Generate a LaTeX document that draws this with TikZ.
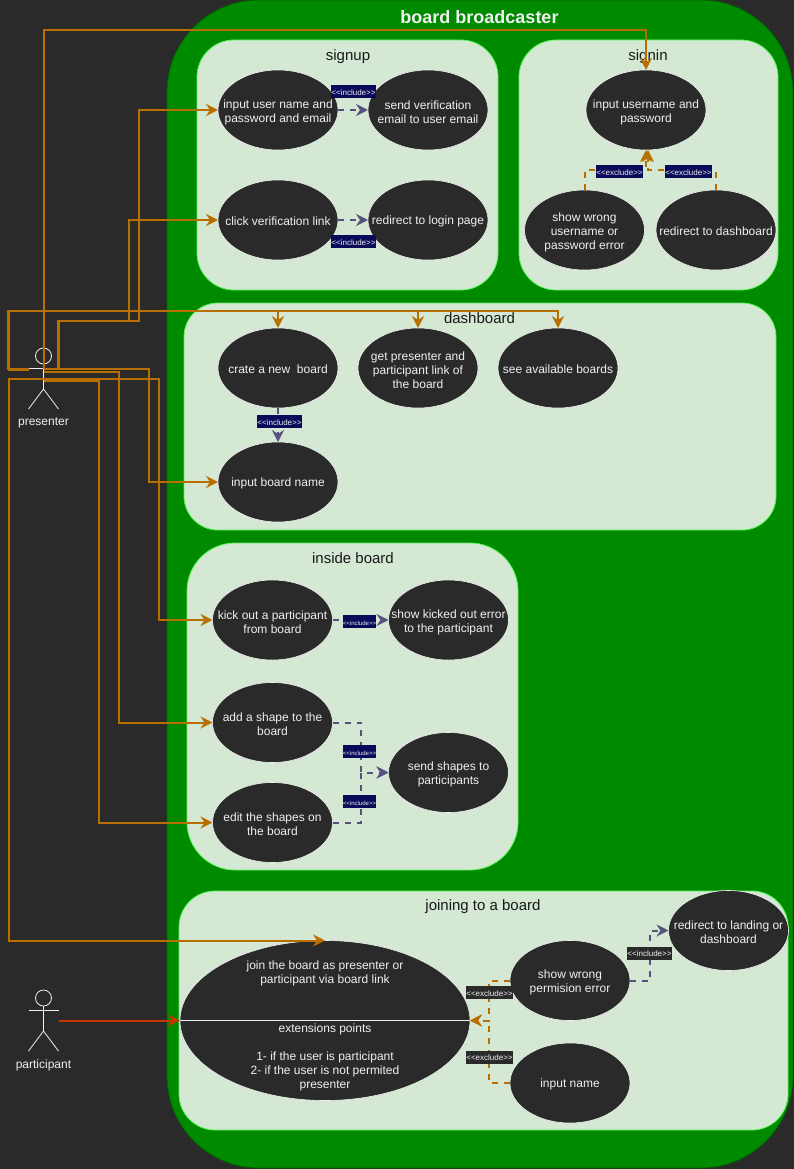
\documentclass[tikz,border=0pt]{standalone}
\usepackage{fontspec}
\setmainfont{Liberation Sans}
\usetikzlibrary{arrows.meta,shapes.geometric}
\definecolor{canvas}{HTML}{2A2A2A}
\definecolor{boardgreen}{HTML}{008A00}
\definecolor{groupgreen}{HTML}{D5E8D4}
\definecolor{routeorange}{HTML}{B96F00}
\definecolor{routepurple}{HTML}{56517E}
\definecolor{routered}{HTML}{C73500}
\definecolor{tagnavy}{HTML}{0A0A5A}
\definecolor{softwhite}{HTML}{F0F0F0}

\tikzset{
	groupbox/.style={draw=#1!60!groupgreen, fill=groupgreen, line width=0.8pt, inner sep=0pt},
	grouptitle/.style={text=black!90, font=\fontsize{15}{17}\selectfont},
	usecase/.style={ellipse, draw=softwhite, fill=canvas, line width=0.6pt, text=softwhite, inner xsep=-45pt, inner ysep=-22pt, outer sep=0pt,
		minimum width=120pt, minimum height=80pt, align=center, font=\fontsize{12}{14}\selectfont,
		execute at begin node={\rule{0pt}{10.8pt}}},
	usecasetwo/.style={usecase, execute at begin node={\rule{0pt}{26.7pt}}},
	usecasethree/.style={usecase, execute at begin node={\rule{0pt}{40.7pt}}},
	plaintext/.style={text=softwhite, align=center, inner sep=0pt, font=\fontsize{12}{14}\selectfont},
	tip/.style={-{Stealth[length=12pt, width=12pt, inset=4pt]}},
	assoc/.style={tip, draw=routeorange, line width=2pt},
	assocred/.style={tip, draw=routered, line width=2pt},
	includeline/.style={tip, draw=routepurple, line width=2pt, dash pattern=on 6pt off 6pt},
	excludeline/.style={tip, draw=routeorange, line width=2pt, dash pattern=on 6pt off 6pt},
	tagbig/.style={fill=#1, text=softwhite, minimum width=45pt, minimum height=13pt, inner sep=0pt, font=\fontsize{8}{9}\selectfont},
	tagwide/.style={tagbig=#1, minimum width=47pt},
	tagsmall/.style={tagbig=tagnavy, minimum width=33pt, font=\fontsize{6}{7}\selectfont},
	stick/.style={draw=softwhite, line width=0.8pt},
}

\begin{document}
\begin{tikzpicture}[x=1pt, y=-1pt]
	\useasboundingbox (0,0) rectangle (794,1169);
	\fill[canvas] (0,0) rectangle (794,1169);

	\node[draw=boardgreen!70!black, fill=boardgreen, rounded corners=92pt, line width=0.8pt, inner sep=0pt, minimum width=626pt, minimum height=1168pt] (board) at (480,584) {};
	\node[text=softwhite, font=\bfseries\fontsize{18}{20}\selectfont] (boardtitle) at (479.5,17.5) {board broadcaster};

	\node[groupbox=green, rounded corners=37pt, minimum width=301pt, minimum height=250pt] (signup) at (347.5,165) {};
	\node[groupbox=green, rounded corners=37pt, minimum width=259pt, minimum height=250pt] (signin) at (648.5,165) {};
	\node[groupbox=green, rounded corners=34pt, minimum width=592pt, minimum height=227pt] (dashboard) at (480,416.5) {};
	\node[groupbox=green, rounded corners=48pt, minimum width=331pt, minimum height=327pt] (inside) at (352.5,706.5) {};
	\node[groupbox=green, rounded corners=36pt, minimum width=609pt, minimum height=239pt] (joining) at (483.5,1010.5) {};

	\node[grouptitle] (signuptitle) at (348,57) {signup};
	\node[grouptitle] (signintitle) at (648,57) {signin};
	\node[grouptitle] (dashboardtitle) at (479.5,318.5) {dashboard};
	\node[grouptitle] (insidetitle) at (353,558.5) {inside board};
	\node[grouptitle] (joiningtitle) at (483,906.5) {joining to a board};

	\node[usecasetwo] (inputuser) at (278,110) {input user name and\\password and email};
	\node[usecasetwo] (sendemail) at (428,110) {send verification\\email to user email};
	\node[usecase] (clicklink) at (278,220) {click verification link};
	\node[usecase] (redirectlogin) at (428,220) {redirect to login page};
	\node[usecasetwo] (inputpass) at (646,110) {input username and\\password};
	\node[usecasethree] (wrongpass) at (584.5,230) {show wrong\\username or\\password error};
	\node[usecase] (redirectdash) at (716,230) {redirect to dashboard};
	\node[usecase] (newboard) at (278,368) {crate a new \ board};
	\node[usecasethree] (getlink) at (418,368) {get presenter and\\participant link of\\the board};
	\node[usecase] (seeboards) at (558,368) {see available boards};
	\node[usecase] (boardname) at (278,482) {input board name};
	\node[usecasetwo] (kick) at (272.5,620) {kick out a participant\\from board};
	\node[usecasetwo] (kickerror) at (448.5,620) {show kicked out error\\to the participant};
	\node[usecasetwo] (addshape) at (272.5,722.5) {add a shape to the\\board};
	\node[usecasetwo] (sendshapes) at (448.5,772.5) {send shapes to\\participants};
	\node[usecasetwo] (editshape) at (272.5,822.5) {edit the shapes on\\the board};
	\node[usecasetwo] (wrongperm) at (570,980.5) {show wrong\\permision error};
	\node[usecase] (inputname) at (570,1083) {input name};
	\node[usecasetwo] (redirectland) at (728.5,930.5) {redirect to landing or\\dashboard};

	\node[usecase, minimum width=290pt, minimum height=160pt] (join) at (325,1020.5) {};
	\draw[draw=softwhite, line width=0.8pt] (join.west) -- (join.east);
	\node[plaintext] (jointext) at (325,973) {join the board as presenter or\\participant via board link};
	\node[plaintext] (extensions) at (325,1057) {extensions points\\[14pt]1- if the user is participant\\2- if the user is not permited\\presenter};

	\foreach \ay/\who in {356/presenter,998/participant} {
		\node[circle, stick, minimum size=16pt, inner sep=0pt] (\who head) at (43.5,\ay) {};
		\draw[stick] (\who head.south) -- (43.5,\ay+33) coordinate (\who hip);
		\draw[stick] (28.5,\ay+12.5) -- (58.5,\ay+12.5);
		\draw[stick] (28.5,\ay+53) -- (\who hip) -- (58.5,\ay+53);
		\node[plaintext] (\who) at (43.5,\ay+67) {\who};
	}
	\coordinate (centerA) at (43.5,369);
	\coordinate (centerB) at (43.5,371.5);
	\coordinate (centerC) at (43.5,378.5);
	\coordinate (centerD) at (43.5,381);
	\coordinate (armright) at (58,369);
	\coordinate (armrighter) at (59,369);
	\coordinate (armleft) at (28.5,368.5);
	\coordinate (armlower) at (28.5,369.8);
	\coordinate (partarm) at (58.5,1020.5);

	\draw[assoc] (centerA) -- (43.5,30.5) -| (inputpass.north);
	\draw[assoc] (armright) -- (58,320.5) -- (138.5,320.5) |- (inputuser.west);
	\draw[assoc] (armrighter) -- (59,320.5) -- (128.5,320.5) |- (clicklink.west);
	\draw[assoc] (armleft) -- (8.2,368.5) -- (8.2,310.5) -| (newboard.north);
	\draw[assoc] (armlower) -- (9.2,369.8) -- (9.2,310.5) -| (getlink.north);
	\draw[assoc] (armlower) -- (9.2,369.8) -- (9.2,310.5) -| (seeboards.north);
	\draw[assoc] (centerA) -- (148.5,369) |- (boardname.west);
	\draw[assoc] (centerB) -- (118.5,371.5) |- (addshape.west);
	\draw[assoc] (centerC) -- (158.5,378.5) |- (kick.west);
	\draw[assoc] (centerD) -- (98.5,381) |- (editshape.west);
	\draw[assoc] (centerC) -- (8.5,378.5) |- (join.north);
	\draw[assocred] (partarm) -- (join.west);

	\draw[includeline] (inputuser) -- (sendemail);
	\draw[includeline] (clicklink) -- (redirectlogin);
	\draw[includeline] (newboard) -- (boardname);
	\draw[includeline] (kick) -- (kickerror);
	\draw[includeline] (addshape.east) -- (361,722.5) |- (sendshapes.west);
	\draw[includeline] (editshape.east) -- (361,822.5) |- (sendshapes.west);
	\draw[includeline] (wrongperm.east) -- (650,980.5) |- (redirectland.west);
	\draw[excludeline] (wrongpass.north) |- (646,170.5) -- (inputpass.south);
	\draw[excludeline] (redirectdash.north) |- (648,170.5) -- ([xshift=2pt]inputpass.south);
	\draw[excludeline] (wrongperm.west) -- (489,980.5) |- (join.east);
	\draw[excludeline] (inputname.west) -- (489,1083) |- (join.east);

	\begin{scope}[execute at begin node={\rule{0pt}{7.5pt}}]
		\node[tagbig=tagnavy] (tagsend) at (353.5,91.5) {<{}<include>{}>};
		\node[tagbig=tagnavy] (taglogin) at (353.5,241.5) {<{}<include>{}>};
		\node[tagbig=tagnavy] (tagname) at (279.5,421.5) {<{}<include>{}>};
		\node[tagwide=tagnavy] (tagwrong) at (619.5,171.5) {<{}<exclude>{}>};
		\node[tagwide=tagnavy] (tagdash) at (688.5,171.5) {<{}<exclude>{}>};
		\node[tagsmall] (tagkick) at (359.5,621.5) {<{}<include>{}>};
		\node[tagsmall] (tagadd) at (359.5,751.5) {<{}<include>{}>};
		\node[tagsmall] (tagedit) at (359.5,801.5) {<{}<include>{}>};
		\node[tagwide=canvas] (tagperm) at (489.5,992.5) {<{}<exclude>{}>};
		\node[tagwide=canvas] (taginput) at (489.5,1057) {<{}<exclude>{}>};
		\node[tagbig=canvas] (tagland) at (649.5,953) {<{}<include>{}>};
	\end{scope}
\end{tikzpicture}
\end{document}
